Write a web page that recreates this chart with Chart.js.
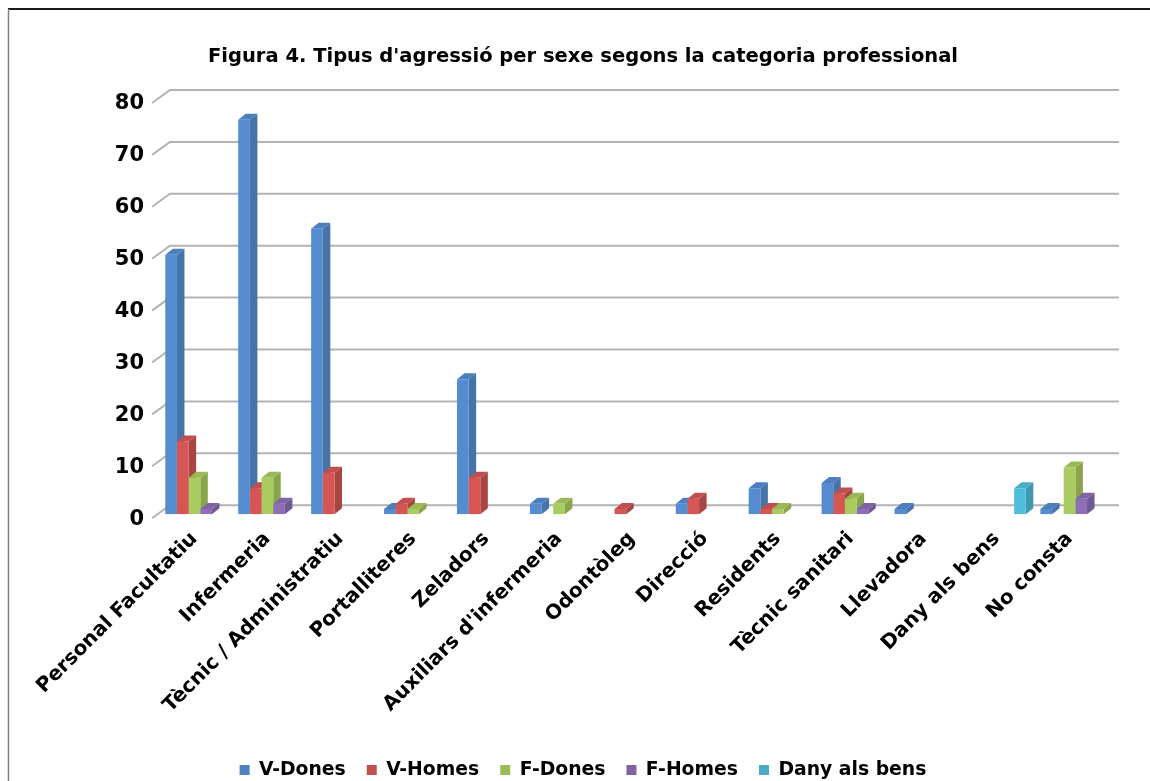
<!DOCTYPE HTML>
<html>

<head>
  <meta charset="utf-8" />
  <script src="https://cdn.jsdelivr.net/npm/chart.js@4.4.1/dist/chart.umd.min.js"></script>
  <style>
    body {
      margin: 0;
      background-color: #fff;
    }

    .chart-box {
      position: relative;
      width: 1150px;
      height: 781px;
    }
  </style>
</head>

<body>
  <div class="chart-box"><canvas id="chart-agressions"></canvas></div>
</body>
<script>
  // Data
  var categories = ['Personal Facultatiu', 'Infermeria', 'Tècnic / Administratiu', 'Portalliteres', 'Zeladors',
    "Auxiliars d'infermeria", 'Odontòleg', 'Direcció', 'Residents', 'Tècnic sanitari', 'Llevadora',
    'Dany als bens', 'No consta'];
  var vDones = [50, 76, 55, 1, 26, 2, 0, 2, 5, 6, 1, 0, 1];
  var vHomes = [14, 5, 8, 2, 7, 0, 1, 3, 1, 4, 0, 0, 0];
  var fDones = [7, 7, 0, 1, 0, 2, 0, 0, 1, 3, 0, 0, 9];
  var fHomes = [1, 2, 0, 0, 0, 0, 0, 0, 0, 1, 0, 0, 3];
  var danyBens = [0, 0, 0, 0, 0, 0, 0, 0, 0, 0, 0, 5, 0];
  var yTicks = [0, 10, 20, 30, 40, 50, 60, 70, 80];

  var FONT = "'DejaVu Sans', Verdana, sans-serif";
  var legendColors = ['#4f81bd', '#c0504d', '#9bbb59', '#8064a2', '#4bacc6'];

  // 3D look: back wall grid, then side and top faces of every bar
  var depthPlugin = {
    id: 'depth',
    beforeDatasetsDraw: function (chart) {
      var ctx = chart.ctx;
      var area = chart.chartArea;
      var yScale = chart.scales.y;
      var dx = 7.5, dy = 6;
      ctx.save();

      ctx.strokeStyle = '#b3b3b3';
      ctx.lineWidth = 2;
      yTicks.forEach(function (v) {
        var yb = yScale.getPixelForValue(v) - 9;
        ctx.beginPath();
        ctx.moveTo(area.left - 6, yb + 13);
        ctx.lineTo(area.left + 12, yb);
        ctx.lineTo(area.right + 13, yb);
        ctx.stroke();
      });

      chart.data.datasets.forEach(function (ds, i) {
        var meta = chart.getDatasetMeta(i);
        meta.data.forEach(function (bar, j) {
          if (!ds.data[j]) return;
          var l = bar.x - bar.width / 2, r = bar.x + bar.width / 2;
          var t = bar.y, b = bar.base;
          ctx.fillStyle = ds.sideColor;
          ctx.beginPath();
          ctx.moveTo(r, t);
          ctx.lineTo(r + dx, t - dy);
          ctx.lineTo(r + dx, b - dy);
          ctx.lineTo(r, b);
          ctx.closePath();
          ctx.fill();
          ctx.fillStyle = ds.topColor;
          ctx.beginPath();
          ctx.moveTo(l, t);
          ctx.lineTo(l + dx, t - dy);
          ctx.lineTo(r + dx, t - dy);
          ctx.lineTo(r, t);
          ctx.closePath();
          ctx.fill();
        });
      });
      ctx.restore();
    }
  };

  // outer frame of the figure
  var framePlugin = {
    id: 'frame',
    afterDraw: function (chart) {
      var ctx = chart.ctx;
      ctx.save();
      ctx.strokeStyle = '#1a1a1a';
      ctx.lineWidth = 2;
      ctx.beginPath();
      ctx.moveTo(8, 9);
      ctx.lineTo(chart.width, 9);
      ctx.stroke();
      ctx.strokeStyle = '#808080';
      ctx.lineWidth = 1.5;
      ctx.beginPath();
      ctx.moveTo(8.5, 9);
      ctx.lineTo(8.5, chart.height);
      ctx.stroke();
      ctx.restore();
    }
  };

  function series(label, data, front, side, top) {
    return {
      label: label,
      data: data,
      backgroundColor: front,
      borderWidth: 0,
      sideColor: side,
      topColor: top,
      barPercentage: 1.0,
      categoryPercentage: 0.8
    };
  }

  var ctx = document.getElementById('chart-agressions');
  var chart = new Chart(ctx, {
    type: 'bar',
    data: {
      labels: categories,
      datasets: [
        series('V-Dones', vDones, '#558cd0', '#4673a8', '#4c7fbf'),
        series('V-Homes', vHomes, '#d65654', '#a84442', '#c04e4c'),
        series('F-Dones', fDones, '#a9cc60', '#8aa44c', '#99b956'),
        series('F-Homes', fHomes, '#8d6fb8', '#705894', '#7f64a5'),
        series('Dany als bens', danyBens, '#4fbedc', '#4098b0', '#49adc8')
      ]
    },
    options: {
      responsive: true,
      maintainAspectRatio: false,
      animation: false,
      layout: {
        padding: { left: 16, right: 0, top: 0, bottom: -8.5 }
      },
      scales: {
        x: {
          grid: { display: false, drawTicks: false },
          border: { display: false },
          ticks: {
            autoSkip: false,
            minRotation: 45,
            maxRotation: 45,
            padding: 13,
            color: '#000',
            font: { family: FONT, size: 20, weight: 'bold' }
          },
          afterFit: function (s) { s.height = 225.5; }
        },
        y: {
          min: 0,
          max: 80,
          grid: { display: false, drawTicks: false },
          border: { display: false },
          ticks: {
            stepSize: 10,
            padding: 14,
            labelOffset: 5,
            color: '#000',
            font: { family: FONT, size: 21, weight: 'bold' }
          },
          afterFit: function (s) { s.width = 142; }
        },
        yRight: {
          type: 'linear',
          position: 'right',
          grid: { display: false, drawTicks: false },
          border: { display: false },
          ticks: { display: false },
          afterFit: function (s) { s.width = 44; }
        }
      },
      plugins: {
        title: {
          display: true,
          text: "Figura 4. Tipus d'agressió per sexe segons la categoria professional",
          color: '#000',
          font: { family: FONT, size: 19.5, weight: 'bold' },
          padding: { top: 45.3, bottom: 30.3 }
        },
        legend: {
          position: 'bottom',
          labels: {
            boxWidth: 10,
            boxHeight: 10,
            padding: 21,
            color: '#000',
            font: { family: FONT, size: 18.8, weight: 'bold' },
            generateLabels: function (chart) {
              var items = Chart.defaults.plugins.legend.labels.generateLabels(chart);
              items.forEach(function (it, i) {
                it.fillStyle = legendColors[i];
                it.strokeStyle = legendColors[i];
                it.lineWidth = 0;
              });
              return items;
            }
          }
        },
        tooltip: { enabled: false }
      }
    },
    plugins: [depthPlugin, framePlugin]
  });
</script>

</html>
